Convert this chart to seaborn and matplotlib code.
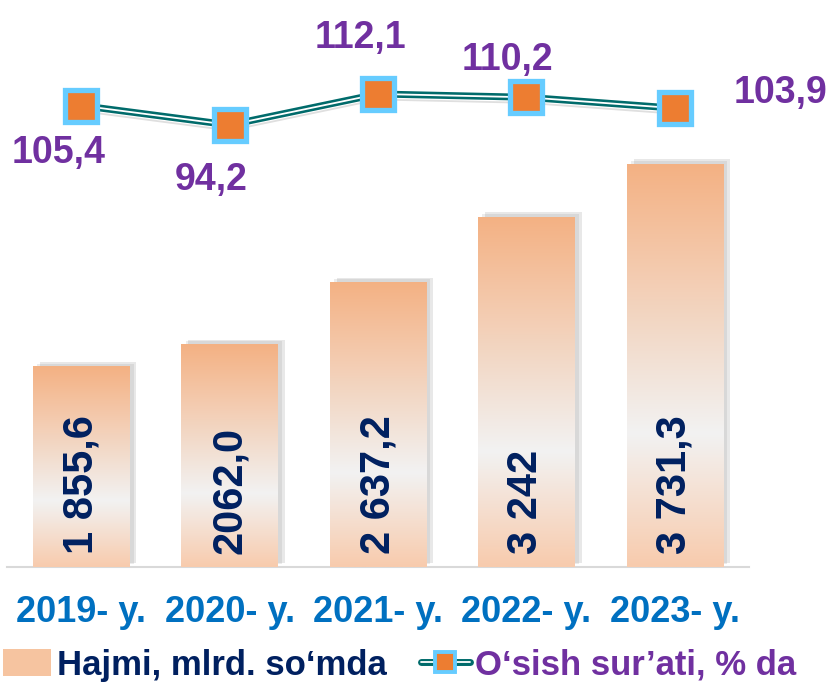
import numpy as np
import matplotlib.pyplot as plt
import matplotlib.patheffects as pe
from matplotlib.colors import LinearSegmentedColormap
from matplotlib.lines import Line2D
from matplotlib.patches import Patch
from matplotlib.legend_handler import HandlerTuple
import seaborn as sns

# Ma'lumotlar
years = ['2019- y.', '2020- y.', '2021- y.', '2022- y.', '2023- y.']
volume = [1855.6, 2062.0, 2637.2, 3242.0, 3731.3]
volume_labels = ['1 855,6', '2062,0', '2 637,2', '3 242', '3 731,3']
growth = [105.4, 94.2, 112.1, 110.2, 103.9]
growth_labels = ['105,4', '94,2', '112,1', '110,2', '103,9']

# label offsets from each marker (pixels)
growth_offsets = [(-23, -47), (-18, -55), (-18, 56), (-19, 37), (106, 15)]

NAVY = '#002060'
PURPLE = '#7030A0'
BLUE = '#0070C0'
TEAL = '#006B6B'
bar_cmap = LinearSegmentedColormap.from_list(
    'bar', [(0, '#F4B183'), (0.67, '#F2F2F2'), (1, '#F8CBAD')])

sns.set_theme(style='white')
plt.rcParams['font.family'] = ['Liberation Sans', 'DejaVu Sans']

fig = plt.figure(figsize=(8.32, 6.86), dpi=100)
ax = fig.add_axes([7 / 832, 119 / 686, 742 / 832, 547 / 686])

# 1. Ustunlar
sns.barplot(x=years, y=volume, ax=ax, width=0.65, color='#F4B183', zorder=2)
grad = np.linspace(0, 1, 256).reshape(-1, 1)
for bar in ax.patches:
    bar.set_facecolor('none')
    bar.set_edgecolor('none')
    bar.set_path_effects([pe.SimplePatchShadow(offset=(5, 3), alpha=0.18, rho=0.5),
                          pe.SimplePatchShadow(offset=(3, 2), alpha=0.15, rho=0.5)])
    x0, y0 = bar.get_x(), bar.get_y()
    im = ax.imshow(grad, cmap=bar_cmap, aspect='auto', origin='upper',
                   extent=(x0, x0 + bar.get_width(), y0, y0 + bar.get_height()),
                   zorder=3)
    im.set_clip_path(bar)

for i, lbl in enumerate(volume_labels):
    ax.annotate(lbl, xy=(i, 0), xytext=(0, 13), textcoords='offset pixels',
                rotation=90, ha='center', va='bottom', fontsize=30,
                fontweight='bold', color=NAVY, zorder=5)

ax.set_xlim(-0.5, 4.5)
ax.set_ylim(0, 5060)
ax.set_yticks([])
ax.set_xlabel('')
ax.set_ylabel('')
ax.tick_params(axis='x', length=0, pad=20, labelsize=26, labelcolor=BLUE)
for t in ax.get_xticklabels():
    t.set_fontweight('bold')
for side in ['top', 'left', 'right']:
    ax.spines[side].set_visible(False)
ax.spines['bottom'].set_color('#D9D9D9')
ax.spines['bottom'].set_linewidth(1.5)

# 2. O'sish sur'ati (ikkinchi o'q)
ax2 = ax.twinx()
sns.lineplot(x=list(range(len(years))), y=growth, ax=ax2, color='white',
             linewidth=1.3, sort=False, zorder=4)
line = ax2.lines[0]
line.set_path_effects([
    pe.SimpleLineShadow(offset=(0, -4), shadow_color='gray', alpha=0.25),
    pe.Stroke(linewidth=5, foreground=TEAL),
    pe.Normal()])
ax2.plot(range(len(years)), growth, ls='none', marker='s', markersize=23,
         markerfacecolor='#ED7D31', markeredgecolor='#66CCFF',
         markeredgewidth=3.8, zorder=6)

for i, (val, lbl) in enumerate(zip(growth, growth_labels)):
    dx, dy = growth_offsets[i]
    ax2.annotate(lbl, xy=(i, val), xytext=(dx, dy), textcoords='offset pixels',
                 ha='center', va='center', fontsize=27, fontweight='bold',
                 color=PURPLE)

ax2.set_ylim(-161, 154.8)
ax2.set_yticks([])
for side in ['top', 'left', 'right', 'bottom']:
    ax2.spines[side].set_visible(False)

# 3. Legenda
line_h = Line2D([], [], color='white', linewidth=1.3,
                path_effects=[pe.Stroke(linewidth=5, foreground=TEAL), pe.Normal()])
mark_h = Line2D([], [], ls='none', marker='s', markersize=14,
                markerfacecolor='#ED7D31', markeredgecolor='#66CCFF',
                markeredgewidth=2.8)
leg = fig.legend(handles=[Patch(facecolor='#F6C4A0', edgecolor='none'), (line_h, mark_h)],
                 labels=['Hajmi, mlrd. so\u2018mda', 'O\u2018sish sur\u2019ati, % da'],
                 loc='center', bbox_to_anchor=(0.48, 1 - 665 / 686), ncol=2,
                 frameon=False, handler_map={tuple: HandlerTuple(ndivide=1)},
                 prop={'size': 25, 'weight': 'bold'}, handlelength=1.4,
                 handleheight=0.8, handletextpad=0.15, columnspacing=1.0)
leg.get_texts()[0].set_color(NAVY)
leg.get_texts()[1].set_color(PURPLE)

plt.savefig('out.png', dpi=100)
plt.close()
